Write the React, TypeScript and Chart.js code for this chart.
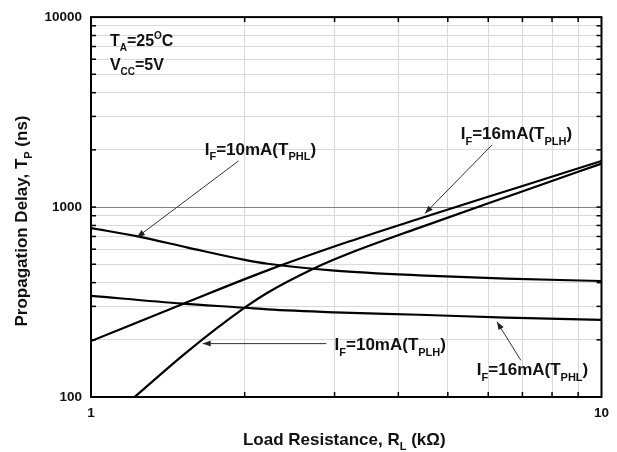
import React, { useEffect, useRef } from "react";
import { Chart, registerables } from "chart.js";
Chart.register(...registerables);

// ---- data (load resistance kΩ, propagation delay ns) ----
const R_10mA_PHL = [1, 1.235, 1.547, 2, 2.217, 3, 4.39, 6.5, 10];
const T_10mA_PHL = [775, 701, 612, 527, 503, 463, 437, 420, 408];
const R_16mA_PHL = [1, 1.513, 2, 2.217, 3, 4.39, 6.5, 10];
const T_16mA_PHL = [341, 310, 295, 289, 279, 271, 262, 255];
const R_16mA_PLH = [1, 1.513, 2.217, 3.2, 4.39, 6.88, 10];
const T_16mA_PLH = [197, 309, 464, 658, 868, 1272, 1749];
const R_10mA_PLH = [1.217, 1.547, 2.003, 2.217, 2.72, 3.2, 4.39, 6.88, 10];
const T_10mA_PLH = [100, 174, 296, 354, 472, 569, 777, 1190, 1693];

const X_TICK_LABELS = [1, 10];
const Y_TICK_LABELS = [100, 1000, 10000];
const X_GRID = [1, 2, 3, 4, 5, 6, 7, 8, 9, 10];
const Y_GRID = [100, 200, 300, 400, 500, 600, 700, 800, 900, 1000, 2000, 3000, 4000, 5000, 6000, 7000, 8000, 9000, 10000];
const X_MINOR = [2, 3, 4, 5, 6, 7, 8, 9];
const Y_MINOR = [200, 300, 400, 500, 600, 700, 800, 900, 1000, 2000, 3000, 4000, 5000, 6000, 7000, 8000, 9000];

type Seg = { t: string; k?: "sub" | "sup" };
type Note = { segs: Seg[]; at: [number, number]; size: number; from?: [number, number]; to?: [number, number] };

const NOTES: Note[] = [
  { segs: [{ t: "T" }, { t: "A", k: "sub" }, { t: "=25" }, { t: "O", k: "sup" }, { t: "C" }], at: [1.089, 7058], size: 16 },
  { segs: [{ t: "V" }, { t: "CC", k: "sub" }, { t: "=5V" }], at: [1.089, 5286], size: 16 },
  { segs: [{ t: "I" }, { t: "F", k: "sub" }, { t: "=10mA(T" }, { t: "PHL", k: "sub" }, { t: ")" }], at: [1.67, 1880], size: 17, from: [1.946, 1750], to: [1.23, 693] },
  { segs: [{ t: "I" }, { t: "F", k: "sub" }, { t: "=16mA(T" }, { t: "PLH", k: "sub" }, { t: ")" }], at: [5.3, 2279], size: 17, from: [6.1, 2120], to: [4.51, 925] },
  { segs: [{ t: "I" }, { t: "F", k: "sub" }, { t: "=10mA(T" }, { t: "PLH", k: "sub" }, { t: ")" }], at: [3.0, 176], size: 17, from: [2.89, 191], to: [1.655, 191] },
  { segs: [{ t: "I" }, { t: "F", k: "sub" }, { t: "=16mA(T" }, { t: "PHL", k: "sub" }, { t: ")" }], at: [5.7, 130], size: 17, from: [6.95, 156], to: [6.24, 249] },
];

const X_TITLE: Seg[] = [{ t: "Load Resistance, R" }, { t: "L", k: "sub" }, { t: " (kΩ)" }];
const Y_TITLE: Seg[] = [{ t: "Propagation Delay, T" }, { t: "P", k: "sub" }, { t: " (ns)" }];

const FAMILY = '"Liberation Sans", Arial, Helvetica, sans-serif';

function drawRich(ctx: CanvasRenderingContext2D, segs: Seg[], x: number, y: number, size: number, align: "left" | "center") {
  const main = `bold ${size}px ${FAMILY}`;
  const small = `bold ${Math.round(size * 0.62)}px ${FAMILY}`;
  let w = 0;
  for (const s of segs) {
    ctx.font = s.k ? small : main;
    w += ctx.measureText(s.t).width;
  }
  let cx = align === "center" ? x - w / 2 : x;
  ctx.textAlign = "left";
  ctx.textBaseline = "alphabetic";
  for (const s of segs) {
    ctx.font = s.k ? small : main;
    const dy = s.k === "sub" ? size * 0.32 : s.k === "sup" ? -size * 0.45 : 0;
    ctx.fillText(s.t, cx, y + dy);
    cx += ctx.measureText(s.t).width;
  }
}

const near = (a: number, b: number) => Math.abs(Math.log10(a) - Math.log10(b)) < 1e-6;

const overlay = {
  id: "overlay",
  afterDatasetsDraw(chart: any) {
    const { ctx, chartArea: a, scales } = chart;
    const xs = scales.x;
    const ys = scales.y;
    ctx.save();
    ctx.strokeStyle = "#000";
    ctx.lineWidth = 2;
    ctx.strokeRect(a.left, a.top, a.right - a.left, a.bottom - a.top);
    ctx.lineWidth = 1.5;
    const line = (x1: number, y1: number, x2: number, y2: number) => {
      ctx.beginPath();
      ctx.moveTo(x1, y1);
      ctx.lineTo(x2, y2);
      ctx.stroke();
    };
    for (const v of X_MINOR) {
      const px = xs.getPixelForValue(v);
      line(px, a.bottom, px, a.bottom - 5);
      line(px, a.top, px, a.top + 5);
    }
    for (const v of Y_MINOR) {
      const py = ys.getPixelForValue(v);
      line(a.left, py, a.left + 5, py);
      line(a.right, py, a.right - 5, py);
    }
    ctx.fillStyle = "#111";
    for (const n of NOTES) {
      drawRich(ctx, n.segs, xs.getPixelForValue(n.at[0]), ys.getPixelForValue(n.at[1]), n.size, "left");
      if (n.from && n.to) {
        const x1 = xs.getPixelForValue(n.from[0]);
        const y1 = ys.getPixelForValue(n.from[1]);
        const x2 = xs.getPixelForValue(n.to[0]);
        const y2 = ys.getPixelForValue(n.to[1]);
        ctx.strokeStyle = "#333";
        ctx.lineWidth = 1;
        line(x1, y1, x2, y2);
        const ang = Math.atan2(y2 - y1, x2 - x1);
        const L = 8;
        const W = 3;
        ctx.beginPath();
        ctx.moveTo(x2, y2);
        ctx.lineTo(x2 - L * Math.cos(ang) + W * Math.sin(ang), y2 - L * Math.sin(ang) - W * Math.cos(ang));
        ctx.lineTo(x2 - L * Math.cos(ang) - W * Math.sin(ang), y2 - L * Math.sin(ang) + W * Math.cos(ang));
        ctx.closePath();
        ctx.fillStyle = "#222";
        ctx.fill();
        ctx.fillStyle = "#111";
      }
    }
    // axis titles
    drawRich(ctx, X_TITLE, (a.left + a.right) / 2 - 2, 445, 17, "center");
    ctx.save();
    ctx.translate(27, 221);
    ctx.rotate(-Math.PI / 2);
    drawRich(ctx, Y_TITLE, 0, 0, 17, "center");
    ctx.restore();
    ctx.restore();
  },
};

const mk = (R: number[], T: number[]) => R.map((r, i) => ({ x: r, y: T[i] }));

export default function App() {
  const ref = useRef<HTMLCanvasElement | null>(null);
  useEffect(() => {
    document.body.style.margin = "0";
    const canvas = ref.current!;
    const ds = (data: any[]) => ({
      data,
      borderColor: "#000",
      borderWidth: 2.2,
      pointRadius: 0,
      fill: false,
      cubicInterpolationMode: "monotone" as const,
    });
    const chart = new Chart(canvas, {
      type: "line",
      data: {
        datasets: [
          { label: "IF=10mA(TPHL)", ...ds(mk(R_10mA_PHL, T_10mA_PHL)) },
          { label: "IF=16mA(TPHL)", ...ds(mk(R_16mA_PHL, T_16mA_PHL)) },
          { label: "IF=16mA(TPLH)", ...ds(mk(R_16mA_PLH, T_16mA_PLH)) },
          { label: "IF=10mA(TPLH)", ...ds(mk(R_10mA_PLH, T_10mA_PLH)) },
        ],
      },
      options: {
        responsive: false,
        animation: false,
        devicePixelRatio: 1,
        layout: { padding: { top: 14, right: 14, left: 0, bottom: 0 } },
        plugins: { legend: { display: false }, tooltip: { enabled: false } },
        scales: {
          x: {
            type: "logarithmic",
            min: 1,
            max: 10,
            afterBuildTicks: (s: any) => {
              s.ticks = X_GRID.map((v) => ({ value: v }));
            },
            afterFit: (s: any) => {
              s.height = 55;
            },
            grid: { color: "#d9d9d9", lineWidth: 1, drawTicks: false },
            border: { display: false },
            ticks: {
              autoSkip: false,
              maxRotation: 0,
              padding: 8,
              color: "#111",
              font: { family: FAMILY, weight: "bold", size: 13.5 },
              callback: (v: any) => {
                const f = X_TICK_LABELS.find((l) => near(Number(v), l));
                return f !== undefined ? String(f) : "";
              },
            },
          },
          y: {
            type: "logarithmic",
            min: 100,
            max: 10000,
            afterBuildTicks: (s: any) => {
              s.ticks = Y_GRID.map((v) => ({ value: v }));
            },
            afterFit: (s: any) => {
              s.width = 91;
            },
            grid: {
              color: (c: any) => (c.tick && near(c.tick.value, 1000) ? "#808080" : "#d9d9d9"),
              lineWidth: 1,
              drawTicks: false,
            },
            border: { display: false },
            ticks: {
              autoSkip: false,
              padding: 9,
              color: "#111",
              font: { family: FAMILY, weight: "bold", size: 13.5 },
              callback: (v: any) => {
                const f = Y_TICK_LABELS.find((l) => near(Number(v), l));
                return f !== undefined ? String(f) : "";
              },
            },
          },
        },
      },
      plugins: [overlay],
    } as any);
    return () => chart.destroy();
  }, []);
  return (
    <div style={{ width: 617, height: 452 }}>
      <canvas ref={ref} width={617} height={452} style={{ display: "block" }} />
    </div>
  );
}
